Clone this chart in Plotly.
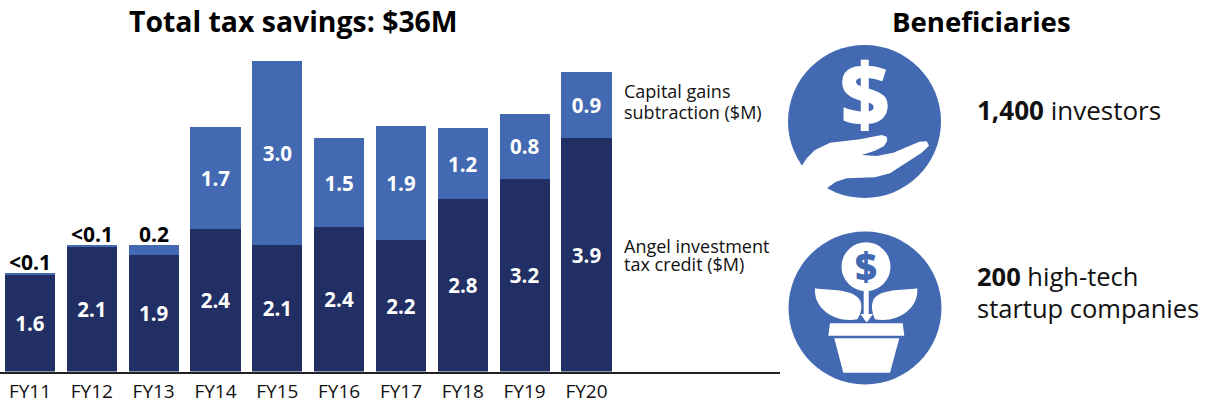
import plotly.graph_objects as go

categories = ["FY11","FY12","FY13","FY14","FY15","FY16","FY17","FY18","FY19","FY20"]
angel_heights = [1.62,2.08,1.94,2.375,2.11,2.40,2.19,2.87,3.21,3.89]
capital_heights = [0.02,0.02,0.16,1.70,3.07,1.49,1.90,1.19,1.08,1.10]
angel_labels = ["1.6","2.1","1.9","2.4","2.1","2.4","2.2","2.8","3.2","3.9"]
capital_labels = ["","","","1.7","3.0","1.5","1.9","1.2","0.8","0.9"]
above_labels = ["<0.1","<0.1","0.2","","","","","","",""]

DARK="#222F64"; LIGHT="#4269B1"; FONT="Open Sans"; INK="#111111"

fig=go.Figure()
fig.add_bar(x=categories,y=angel_heights,marker_color=DARK,marker_line_width=0,text=angel_labels,
            textposition="inside",insidetextanchor="middle",textangle=0,constraintext="none",
            insidetextfont=dict(family=FONT,size=20.5,color="white",weight=700),name="Angel investment tax credit ($M)",cliponaxis=False)
fig.add_bar(x=categories,y=capital_heights,marker_color=LIGHT,marker_line_width=0,text=capital_labels,
            textposition="inside",insidetextanchor="middle",textangle=0,constraintext="none",
            insidetextfont=dict(family=FONT,size=20.5,color="white",weight=700),name="Capital gains subtraction ($M)",cliponaxis=False)
totals=[a+c for a,c in zip(angel_heights,capital_heights)]

def zpath(points,ox,oy,close=True):
    return "M"+" L".join(f"{x/3+ox:.1f},{y/3+oy:.1f}" for x,y in points)+(" Z" if close else "")

def circle(cx,cy,r,fill):
    return dict(type="circle",xref="x2",yref="y2",x0=cx-r,x1=cx+r,y0=cy-r,y1=cy+r,fillcolor=fill,line_width=0,layer="above")

def poly(path,fill):
    return dict(type="path",xref="x2",yref="y2",path=path,fillcolor=fill,line_width=0,layer="above")

hand=[(65,408),(80,385),(105,360),(150,338),(240,328),(305,315),(320,320),(322,332),(312,348),(285,362),(245,375),
      (290,378),(340,368),(418,335),(440,334),(447,347),(425,368),(330,430),(285,442),(200,445),(168,455),(140,475),(100,510),(40,470)]
def c(x,y,ox=780,oy=220): return f"{x/3+ox:.1f},{y/3+oy:.1f}"
leftleaf=f"M{c(105,205)} C{c(150,212)} {c(225,205)} {c(242,245)} C{c(248,265)} {c(240,285)} {c(232,298)} C{c(170,310)} {c(100,270)} {c(105,205)} Z"
rightleaf=f"M{c(412,205)} C{c(367,212)} {c(292,205)} {c(278,245)} C{c(272,265)} {c(280,285)} {c(285,298)} C{c(347,310)} {c(417,270)} {c(412,205)} Z"
stem=[(251,200),(266,200),(266,282),(279,282),(262,305),(258,305),(241,282),(251,282)]
rim=[(150,310),(368,310),(373,347),(145,347)]
pot=[(163,355),(358,355),(330,458),(190,458)]

shapes=[circle(864.5,121.5,76.5,LIGHT),poly(zpath(hand,780,30),"white"),
        circle(865,308,76.5,LIGHT),poly(leftleaf,"white"),poly(rightleaf,"white"),
        poly(zpath(stem,780,220),"white"),poly(zpath(rim,780,220),"white"),poly(zpath(pot,780,220),"white"),
        circle(866,266.7,24.5,"white")]

def note(x,y,t,size,anchor="left",color=INK,weight=None):
    f=dict(family=FONT,size=size,color=color)
    if weight: f["weight"]=weight
    return dict(xref="x2",yref="y2",x=x,y=y,text=t,showarrow=False,xanchor=anchor,yanchor="middle",font=f,align=anchor)

annotations=[
    note(293,21,"Total tax savings: $36M",28.4,"center","black",700),
    note(981,21,"Beneficiaries",27.6,"center","black",700),
    note(622,91,"Capital gains",18),note(622,112,"subtraction ($M)",18),
    note(622,246,"Angel investment",18),note(622,264,"tax credit ($M)",18),
    note(975,110,"<b>1,400</b> investors",26),
    note(975,276,"<b>200</b> high-tech",25.5),
    note(975,308,"startup companies",25.5),
    note(864.5,92,"$",86,"center","white",800),
    note(866,266,"$",38,"center",LIGHT,800),
]
for cat,tot,lab in zip(categories,totals,above_labels):
    if lab:
        annotations.append(dict(xref="x",yref="y",x=cat,y=tot,text=lab.replace("<","&lt;"),showarrow=False,yanchor="bottom",yshift=-5,
                                font=dict(family=FONT,size=21,color="black",weight=700)))

fig.update_layout(
    width=1207,height=404,barmode="stack",bargap=0.19,showlegend=False,
    margin=dict(l=0,r=0,t=0,b=0),paper_bgcolor="white",plot_bgcolor="rgba(0,0,0,0)",
    font=dict(family=FONT),
    xaxis=dict(domain=[0,780/1207],range=[-0.485,12.13],type="category",categoryorder="array",categoryarray=categories,
               showgrid=False,showline=True,linecolor="#222222",linewidth=2,ticks="",automargin=False,
               tickfont=dict(family=FONT,size=19,color=INK),ticklabelstandoff=2,tickangle=0),
    yaxis=dict(domain=[32.5/404,1],range=[0,6.19],visible=False,automargin=False),
    xaxis2=dict(domain=[0,1],range=[0,1207],visible=False,anchor="y2",fixedrange=True),
    yaxis2=dict(domain=[0,1],range=[404,0],visible=False,anchor="x2",fixedrange=True),
    shapes=shapes,annotations=annotations,
)
fig.add_scatter(x=[0],y=[0],xaxis="x2",yaxis="y2",mode="markers",marker=dict(opacity=0,size=1),hoverinfo="skip",showlegend=False)
fig.write_html("out.html",config=dict(displayModeBar=False),
               post_script="document.body.style.margin='0';document.body.style.overflow='hidden';")
